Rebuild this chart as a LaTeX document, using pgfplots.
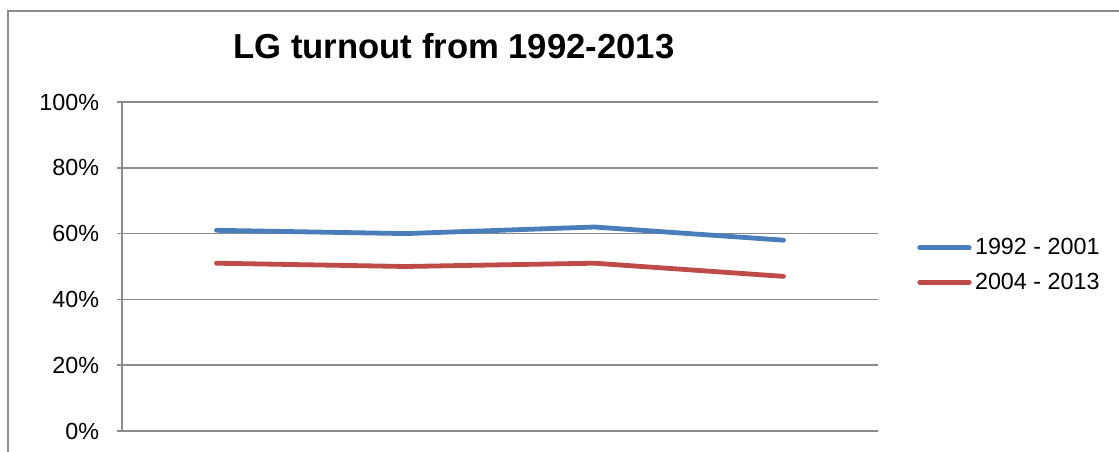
\documentclass[border=0pt]{standalone}
\usepackage{fontspec}
\setmainfont{Liberation Sans}
\usepackage{pgfplots}
\pgfplotsset{compat=1.18}
\definecolor{gridgray}{HTML}{8C8C8C}
\definecolor{xlblue}{HTML}{4A7EBB}
\definecolor{xlred}{HTML}{BE4B48}
\begin{document}
\begin{tikzpicture}
\clip (0,0) rectangle (839.25pt,339pt);
\fill[white] (0,0) rectangle (839.25pt,339pt);
\draw[gridgray, line width=1.6pt] (6pt,-10pt) -- (6pt,330.75pt) -- (850pt,330.75pt);
\begin{axis}[
  at={(91.5pt,15.75pt)}, anchor=south west,
  scale only axis, width=567pt, height=246.75pt,
  xmin=-0.5, xmax=3.5, ymin=0, ymax=100,
  axis x line*=bottom, axis y line*=left,
  axis line style={gridgray, line width=1.2pt, -},
  xtick=\empty,
  ytick={0,20,40,60,80,100},
  yticklabel={\pgfmathprintnumber{\tick}\%},
  /pgf/number format/assume math mode=true,
  yticklabel style={font=\fontsize{17.5}{20}\selectfont, text=black, inner sep=0pt},
  ytick style={gridgray, line width=1.2pt},
  major tick length=4pt,
  tick align=outside,
  yticklabel style={xshift=-13pt},
  ymajorgrids, grid style={gridgray, line width=1.2pt},
  title={\bfseries LG turnout from 1992-2013},
  title style={font=\fontsize{26}{30}\selectfont, at={(0.439,1.1277)}, anchor=base, inner sep=0pt, yshift=-5pt},
  legend style={at={(1.0516,0.5046)}, anchor=west, draw=none, fill=none, inner sep=0pt,
     font=\fontsize{17.5}{20}\selectfont, row sep=12pt,
     nodes={inner xsep=2.5pt, inner ysep=0pt}},
  legend cell align=left,
  legend image code/.code={\draw[#1, line width=3.8pt, line cap=round] (2pt,0pt) -- (39pt,0pt);},
]
\addplot[xlblue, line width=3.6pt, line cap=round, line join=round] coordinates {(0,61) (1,60) (2,62) (3,58)};
\addlegendentry{1992 - 2001}
\addplot[xlred, line width=3.6pt, line cap=round, line join=round] coordinates {(0,51) (1,50) (2,51) (3,47)};
\addlegendentry{2004 - 2013}
\end{axis}
\end{tikzpicture}
\end{document}
